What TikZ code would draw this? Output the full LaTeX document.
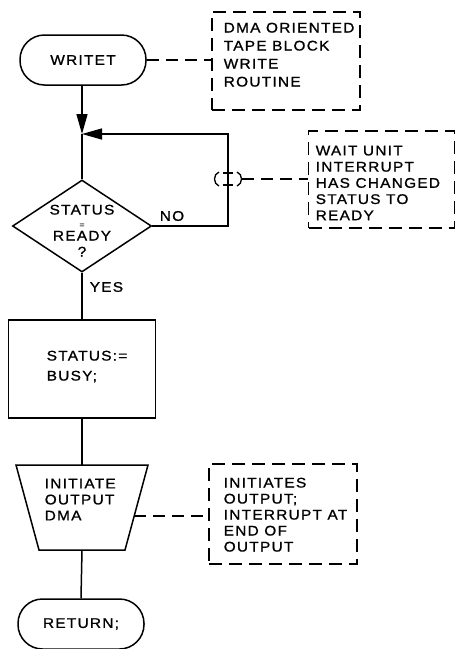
\documentclass[tikz,border=0pt]{standalone}
\usepackage{fontspec}
\setmainfont[LetterSpace=9,FakeStretch=1.1,FakeBold=1]{Liberation Sans}
\usetikzlibrary{arrows.meta,shapes.geometric,calc}
\begin{document}
\begin{tikzpicture}[x=1pt,y=-1pt,line width=1.5pt,
  lbl/.style={font=\fontsize{14}{18}\selectfont, inner sep=0pt},
  txt/.style={lbl, align=left, anchor=north west},
  term/.style={draw, rectangle, rounded corners=24.5pt, minimum width=126pt, minimum height=50pt, inner sep=0pt, font=\fontsize{14}{18}\selectfont},
  notebox/.style={draw, rectangle, dash pattern=on 13pt off 7pt, line width=1.4pt, inner sep=0pt},
  notelink/.style={dash pattern=on 12pt off 7pt, line width=1.4pt},
  procbox/.style={draw, rectangle, inner sep=0pt},
  decision/.style={draw, diamond, inner sep=0pt},
  tip/.style={-{Triangle[length=20pt,width=11pt]}}
]
\useasboundingbox (0,0) rectangle (456,649);

% main flow nodes
\node[term] (w) at (83,60) {WRITET};
\node[decision, minimum width=139pt, minimum height=92pt] (d) at (82,226) {};
\node[lbl, align=center, anchor=north] (dt) at (82,204) {STATUS\\[-5pt]{\fontsize{8}{8}\selectfont =}\\[-5pt]READY\\[-2pt]?};
\node[procbox, minimum width=147pt, minimum height=98pt] (p) at (82,369) {};
\node[txt, font=\fontsize{14}{20}\selectfont] (pt) at (46,350) {STATUS:=\\BUSY;};
% trapezoid (output)
\coordinate (tTL) at (16,465);
\coordinate (tTR) at (148,465);
\coordinate (tBR) at (125,550);
\coordinate (tBL) at (39,550);
\coordinate (tTop) at (82,465);
\coordinate (tBot) at (82,550);
\draw (tTL) -- (tTR) -- (tBR) -- (tBL) -- cycle;
\node[txt, font=\fontsize{14}{16}\selectfont] (tt) at (44,478) {INITIATE\\OUTPUT\\DMA};
\node[term] (r) at (81,624) {RETURN;};

% notes
\node[notebox, minimum width=148pt, minimum height=98pt] (n1) at (286,61) {};
\node[txt, font=\fontsize{14}{18}\selectfont] (n1t) at (223,22) {DMA ORIENTED\\TAPE BLOCK\\WRITE\\ROUTINE};
\node[notebox, minimum width=146pt, minimum height=97pt] (n2) at (381.5,179.5) {};
\node[txt, font=\fontsize{14}{16.2}\selectfont] (n2t) at (315,145) {WAIT UNIT\\INTERRUPT\\HAS CHANGED\\STATUS TO\\READY};
\node[notebox, minimum width=148pt, minimum height=100pt] (n3) at (283,514) {};
\node[txt, font=\fontsize{14}{16}\selectfont] (n3t) at (223,477) {INITIATES\\OUTPUT;\\INTERRUPT AT\\END OF\\OUTPUT};

% labels
\node[lbl] (no) at (172,216) {NO};
\node[lbl, anchor=west] (yes) at (89,287) {YES};

% connectors
\coordinate (join) at (82,134);
\coordinate (lc) at (228,134);
\draw[tip] (w.south -| join) -- (join);
\draw (join) -- (d.north);
\draw[tip] (d.east) -| (lc) -- (join);
\draw (d.south) -- (p.north);
\draw (p.south) -- (tTop);
\draw (tBot) -- (r.north);

% annotation links
\draw[notelink] (w.east) -- (w.east -| n1.west);
\coordinate (br) at (228,179);
\draw[line width=1.3pt] ($(br)+(-9,-7)$) .. controls ($(br)+(-15,-5)$) and ($(br)+(-15,5)$) .. ($(br)+(-9,7)$);
\draw[line width=1.3pt] ($(br)+(9,-7)$) .. controls ($(br)+(15,-5)$) and ($(br)+(15,5)$) .. ($(br)+(9,7)$);
\draw[line width=1.3pt] ($(br)+(-5,-6)$) -- ($(br)+(5,-6)$);
\draw[line width=1.3pt] ($(br)+(-5,6)$) -- ($(br)+(5,6)$);
\coordinate (brr) at ($(br)+(14,0)$);
\draw[notelink] (brr) -- (brr -| n2.west);
\coordinate (ts) at ($(tTR)!0.6!(tBR)$);
\draw[notelink] (ts) -- (ts -| n3.west);
\end{tikzpicture}
\end{document}
